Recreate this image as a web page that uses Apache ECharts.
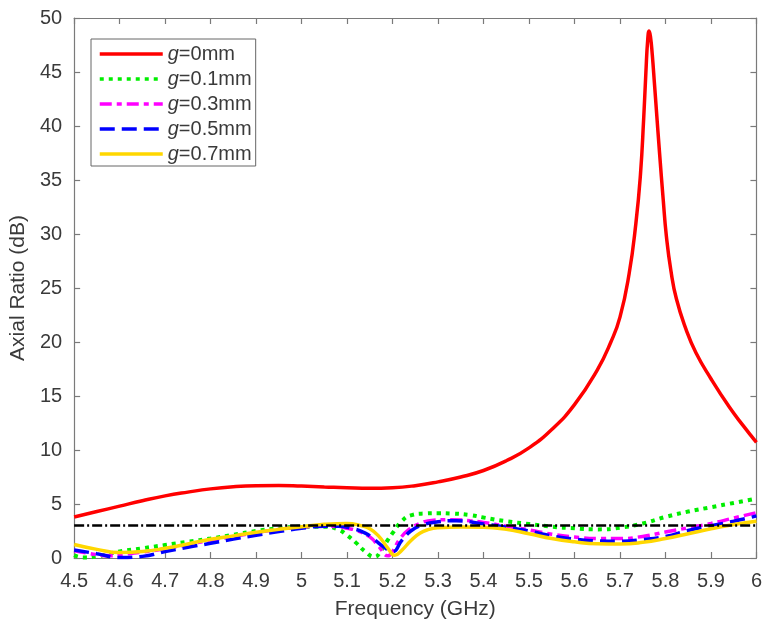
<!DOCTYPE html>
<html>
<head>
<meta charset="utf-8">
<script src="https://cdn.jsdelivr.net/npm/echarts@6/dist/echarts.min.js"></script>
<style>html,body{margin:0;padding:0;background:#fff;}#c{width:765px;height:625px;}</style>
</head>
<body>
<div id="c"></div>
<script>
// Frequency (GHz) / Axial Ratio (dB) readings
const fRed = [4.5,4.55,4.6,4.65,4.7,4.75,4.8,4.85,4.9,4.95,5.0,5.05,5.1,5.15,5.2,5.25,5.3,5.35,5.4,5.45,5.5,5.55,5.6,5.65,5.68,5.7,5.72,5.735,5.745,5.752,5.757,5.761,5.764,5.767,5.771,5.776,5.78,5.787,5.795,5.802,5.812,5.824,5.845,5.867,5.9,5.94,5.97,6.0];
const arRed = [3.8,4.3,4.8,5.3,5.75,6.1,6.4,6.6,6.7,6.72,6.66,6.58,6.5,6.45,6.5,6.7,7.05,7.5,8.1,9.0,10.2,11.9,14.2,17.4,20.0,22.3,26.3,31.0,35.5,40.6,45.0,48.0,48.8,48.3,46.6,43.8,41.5,37.5,33.2,29.8,26.6,24.0,21.2,19.0,16.6,14.0,12.3,10.7];

const fG01 = [4.5,4.52,4.55,4.6,4.65,4.7,4.75,4.8,4.85,4.9,4.95,5.0,5.05,5.08,5.1,5.12,5.14,5.16,5.175,5.19,5.2,5.22,5.24,5.27,5.3,5.33,5.37,5.4,5.45,5.5,5.55,5.6,5.65,5.7,5.75,5.8,5.85,5.9,5.95,6.0];
const arG01 = [0.25,0.05,0.15,0.6,0.9,1.2,1.5,1.8,2.15,2.5,2.75,2.9,2.9,2.65,2.1,1.4,0.6,0.1,0.7,1.7,2.3,3.4,3.95,4.12,4.15,4.12,3.98,3.75,3.4,3.15,2.9,2.75,2.65,2.8,3.2,3.8,4.3,4.7,5.1,5.5];

const fG03 = [4.5,4.55,4.58,4.6,4.65,4.7,4.75,4.8,4.85,4.9,4.95,5.0,5.05,5.08,5.1,5.12,5.15,5.17,5.19,5.2,5.215,5.235,5.26,5.29,5.33,5.37,5.4,5.45,5.5,5.55,5.6,5.65,5.7,5.75,5.8,5.85,5.9,5.95,6.0];
const arG03 = [0.7,0.3,0.2,0.3,0.55,0.85,1.25,1.65,2.0,2.35,2.65,2.85,2.95,2.9,2.75,2.55,1.95,1.05,0.2,0.6,1.7,2.6,3.2,3.5,3.55,3.45,3.3,2.95,2.6,2.2,1.95,1.8,1.8,2.0,2.4,2.8,3.2,3.7,4.2];

const fG05 = [4.5,4.55,4.6,4.65,4.7,4.75,4.8,4.85,4.9,4.95,5.0,5.05,5.08,5.11,5.14,5.16,5.18,5.2,5.22,5.24,5.265,5.3,5.34,5.4,5.45,5.5,5.55,5.6,5.65,5.7,5.75,5.8,5.85,5.9,5.95,6.0];
const arG05 = [0.75,0.4,0.05,0.15,0.6,1.0,1.36,1.75,2.1,2.45,2.75,2.95,2.95,2.75,2.3,1.7,1.05,0.58,1.6,2.5,3.05,3.35,3.45,3.15,2.85,2.5,2.05,1.75,1.58,1.55,1.7,2.0,2.55,3.0,3.4,3.9];

const fG07 = [4.5,4.55,4.6,4.65,4.7,4.75,4.8,4.85,4.9,4.95,5.0,5.05,5.1,5.13,5.15,5.17,5.19,5.205,5.22,5.24,5.26,5.28,5.3,5.35,5.4,5.45,5.5,5.55,5.6,5.65,5.7,5.75,5.8,5.85,5.9,5.95,6.0];
const arG07 = [1.25,0.8,0.5,0.6,0.9,1.3,1.73,2.05,2.38,2.65,2.9,3.12,3.2,3.0,2.7,2.0,0.9,0.25,0.7,1.6,2.3,2.65,2.8,2.88,2.85,2.65,2.25,1.8,1.5,1.32,1.3,1.45,1.8,2.25,2.7,3.1,3.4];

const fRef = [4.5, 6.0];
const arRef = [3, 3];

const seriesNames = ['g=0mm','g=0.1mm','g=0.3mm','g=0.5mm','g=0.7mm'];
const legendLabels = {'g=0mm':'{i|g}=0mm','g=0.1mm':'{i|g}=0.1mm','g=0.3mm':'{i|g}=0.3mm','g=0.5mm':'{i|g}=0.5mm','g=0.7mm':'{i|g}=0.7mm'};

function pairs(xs, ys){ return xs.map((x,i)=>[x, ys[i]]); }

const FONT = '"Liberation Sans", Arial, sans-serif';
const AXC = '#7a7a7a';
const TXT = '#3a3a3a';

const chart = echarts.init(document.getElementById('c'), null, {renderer:'canvas'});
const lineBase = {type:'line', showSymbol:false, symbol:'none', smooth:0.5, animation:false, xAxisIndex:0, yAxisIndex:0};

chart.setOption({
  animation:false,
  backgroundColor:'#fff',
  grid:{left:72, right:4, top:18, bottom:67, containLabel:false},
  xAxis:[{
    type:'value', min:4.5, max:6, interval:0.1,
    name:'Frequency (GHz)', nameLocation:'middle', nameGap:41,
    nameTextStyle:{fontFamily:FONT, fontSize:21, color:TXT},
    axisLine:{show:true, onZero:false, lineStyle:{color:AXC, width:1.2}},
    axisTick:{show:true, inside:true, length:6, lineStyle:{color:AXC, width:1.2}},
    axisLabel:{fontFamily:FONT, fontSize:20, color:TXT, margin:13},
    splitLine:{show:false}
  },{
    type:'value', min:4.5, max:6, interval:0.1, position:'top',
    axisLine:{show:true, onZero:false, lineStyle:{color:AXC, width:1.2}},
    axisTick:{show:true, inside:true, length:6, lineStyle:{color:AXC, width:1.2}},
    axisLabel:{show:false}, splitLine:{show:false}
  }],
  yAxis:[{
    type:'value', min:0, max:50, interval:5,
    name:'Axial Ratio (dB)', nameLocation:'middle', nameGap:39,
    nameTextStyle:{fontFamily:FONT, fontSize:21, color:TXT},
    axisLine:{show:true, onZero:false, lineStyle:{color:AXC, width:1.2}},
    axisTick:{show:true, inside:true, length:6, lineStyle:{color:AXC, width:1.2}},
    axisLabel:{fontFamily:FONT, fontSize:20, color:TXT, margin:12},
    splitLine:{show:false}
  },{
    type:'value', min:0, max:50, interval:5, position:'right',
    axisLine:{show:true, onZero:false, lineStyle:{color:AXC, width:1.2}},
    axisTick:{show:true, inside:true, length:6, lineStyle:{color:AXC, width:1.2}},
    axisLabel:{show:false}, splitLine:{show:false}
  }],
  legend:{
    data:seriesNames,
    orient:'vertical', left:91, top:39,
    itemWidth:63, itemHeight:14, itemGap:5,
    padding:[5,4,2,7],
    backgroundColor:'#fff', borderColor:'#666', borderWidth:1,
    itemStyle:{opacity:0},
    lineStyle:{width:3.5},
    formatter:(n)=>legendLabels[n],
    textStyle:{fontFamily:FONT, fontSize:20, color:TXT, lineHeight:20,
      rich:{i:{fontFamily:FONT, fontSize:20, fontStyle:'italic', color:TXT, lineHeight:20}}},
    selectedMode:false
  },
  series:[
    Object.assign({}, lineBase, {name:'g=0mm', data:pairs(fRed, arRed), z:2,
      lineStyle:{color:'#ff0000', width:3.5}, itemStyle:{color:'#ff0000'}}),
    Object.assign({}, lineBase, {name:'g=0.1mm', data:pairs(fG01, arG01), z:3,
      lineStyle:{color:'#00ee00', width:4, type:[4,5], cap:'butt'}, itemStyle:{color:'#00ee00'}}),
    Object.assign({}, lineBase, {name:'g=0.3mm', data:pairs(fG03, arG03), z:4,
      lineStyle:{color:'#ff00ff', width:3.5, type:[12,5,5,5]}, itemStyle:{color:'#ff00ff'}}),
    Object.assign({}, lineBase, {name:'g=0.5mm', data:pairs(fG05, arG05), z:5,
      lineStyle:{color:'#0000ff', width:3.5, type:[15,7]}, itemStyle:{color:'#0000ff'}}),
    Object.assign({}, lineBase, {name:'g=0.7mm', data:pairs(fG07, arG07), z:6,
      lineStyle:{color:'#ffd700', width:3.5}, itemStyle:{color:'#ffd700'}}),
    Object.assign({}, lineBase, {name:'ref', data:pairs(fRef, arRef), smooth:false, z:7,
      lineStyle:{color:'#000000', width:2.5, type:[10,3,2,3]}, itemStyle:{color:'#000'}})
  ]
});
</script>
</body>
</html>
